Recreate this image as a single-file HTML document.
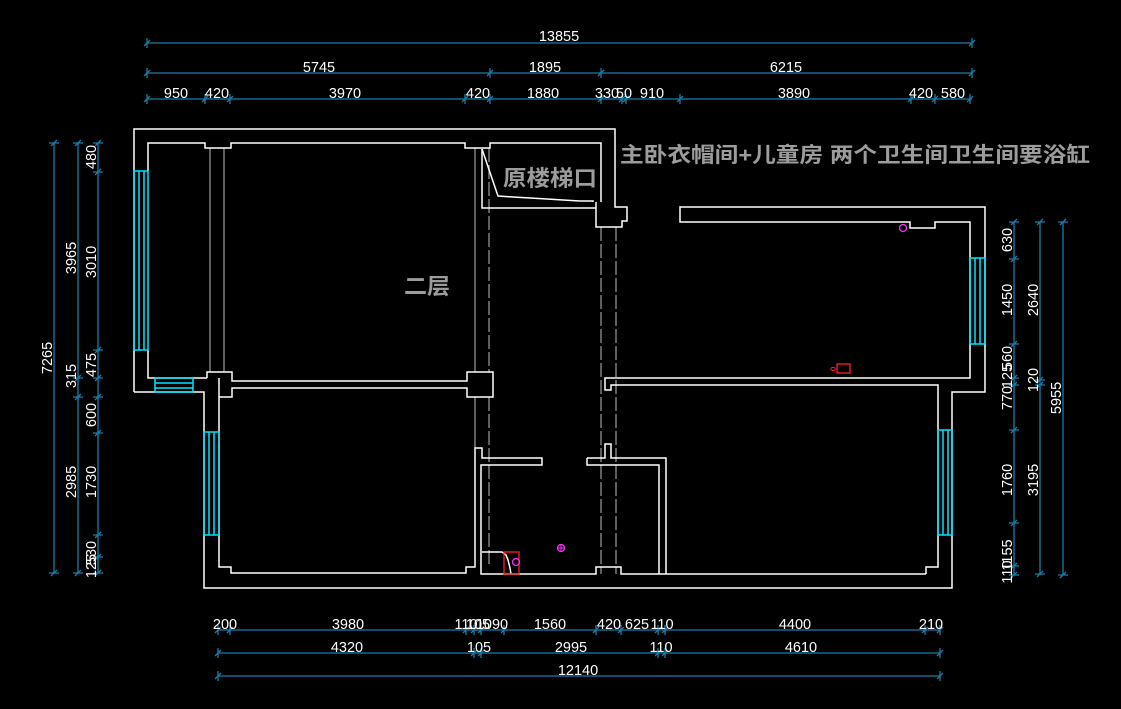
<!DOCTYPE html>
<html><head><meta charset="utf-8"><style>
html,body{margin:0;padding:0;background:#000;}
svg{display:block}
.w{stroke:#fff;stroke-width:1.5;fill:none}
.g{stroke:#909090;stroke-width:1.3;fill:none}
.gd{stroke:#909090;stroke-width:1.3;fill:none;stroke-dasharray:14 3}
.c{stroke:#00e5ff;stroke-width:1.5;fill:none}
.d{stroke:#1a7da8;stroke-width:1.3;fill:none}
.t{fill:#fff;font-family:"Liberation Sans",sans-serif;font-size:14.5px;text-anchor:middle}
.lb{fill:#9c9c9c;font-family:"Liberation Sans","Noto Sans CJK SC",sans-serif;font-weight:bold}
</style></head><body>
<svg width="1121" height="709" viewBox="0 0 1121 709" xmlns="http://www.w3.org/2000/svg">
<rect width="1121" height="709" fill="#000"/>

<!-- ===== Dimensions top ===== -->
<g class="d">
<path d="M147,43H972 M147,73H972 M147,99H972"/>
<path d="M147,38V48M144,46L150,40 M972,38V48M969,46L975,40"/>
<path d="M147,68V78M144,76L150,70 M490,68V78M487,76L493,70 M601,68V78M598,76L604,70 M972,68V78M969,76L975,70"/>
<path d="M147,94V104M144,102L150,96 M205,94V104M202,102L208,96 M230,94V104M227,102L233,96 M465,94V104M462,102L468,96 M490,94V104M487,102L493,96 M601,94V104M598,102L604,96 M622,94V104M619,102L625,96 M626,94V104M623,102L629,96 M680,94V104M677,102L683,96 M911,94V104M908,102L914,96 M935,94V104M932,102L938,96 M970,94V104M967,102L973,96"/>
</g>
<g class="t">
<text x="559" y="41">13855</text>
<text x="319" y="72">5745</text><text x="545" y="72">1895</text><text x="786" y="72">6215</text>
<text x="176" y="98">950</text><text x="217" y="98">420</text><text x="345" y="98">3970</text><text x="478" y="98">420</text><text x="543" y="98">1880</text><text x="607" y="98">330</text><text x="624" y="98">50</text><text x="652" y="98">910</text><text x="794" y="98">3890</text><text x="921" y="98">420</text><text x="953" y="98">580</text>
</g>

<!-- ===== Dimensions left ===== -->
<g class="d">
<path d="M54,143V573 M78,143V573 M98,143V573"/>
<path d="M49,143H59M51,146L57,140 M49,573H59M51,576L57,570"/>
<path d="M73,143H83M75,146L81,140 M73,378H83M75,381L81,375 M73,397H83M75,400L81,394 M73,573H83M75,576L81,570"/>
<path d="M93,143H103M95,146L101,140 M93,172H103M95,175L101,169 M93,350H103M95,353L101,347 M93,378H103M95,381L101,375 M93,397H103M95,400L101,394 M93,433H103M95,436L101,430 M93,535H103M95,538L101,532 M93,557H103M95,560L101,554 M93,573H103M95,576L101,570"/>
</g>
<g class="t">
<text transform="translate(52,358) rotate(-90)">7265</text>
<text transform="translate(76,258) rotate(-90)">3965</text>
<text transform="translate(76,376) rotate(-90)">315</text>
<text transform="translate(76,482) rotate(-90)">2985</text>
<text transform="translate(96,157) rotate(-90)">480</text>
<text transform="translate(96,262) rotate(-90)">3010</text>
<text transform="translate(96,365) rotate(-90)">475</text>
<text transform="translate(96,415) rotate(-90)">600</text>
<text transform="translate(96,482) rotate(-90)">1730</text>
<text transform="translate(96,553) rotate(-90)">530</text>
<text transform="translate(96,566) rotate(-90)">125</text>
</g>

<!-- ===== Dimensions right ===== -->
<g class="d">
<path d="M1014,222V575 M1040,222V575 M1063,222V575"/>
<path d="M1009,222H1019M1011,225L1017,219 M1009,259H1019M1011,262L1017,256 M1009,344H1019M1011,347L1017,341 M1009,378H1019M1011,381L1017,375 M1009,385H1019M1011,388L1017,382 M1009,430H1019M1011,433L1017,427 M1009,523H1019M1011,526L1017,520 M1009,566H1019M1011,569L1017,563 M1009,575H1019M1011,578L1017,572"/>
<path d="M1035,222H1045M1037,225L1043,219 M1035,380H1045M1037,383L1043,377 M1035,385H1045M1037,388L1043,382 M1035,574H1045M1037,577L1043,571"/>
<path d="M1058,222H1068M1060,225L1066,219 M1058,575H1068M1060,578L1066,572"/>
</g>
<g class="t">
<text transform="translate(1012,240) rotate(-90)">630</text>
<text transform="translate(1012,300) rotate(-90)">1450</text>
<text transform="translate(1012,358) rotate(-90)">560</text>
<text transform="translate(1012,376) rotate(-90)">125</text>
<text transform="translate(1012,398) rotate(-90)">770</text>
<text transform="translate(1012,480) rotate(-90)">1760</text>
<text transform="translate(1012,555) rotate(-90)">1155</text>
<text transform="translate(1012,572) rotate(-90)">110</text>
<text transform="translate(1038,300) rotate(-90)">2640</text>
<text transform="translate(1038,380) rotate(-90)">120</text>
<text transform="translate(1038,480) rotate(-90)">3195</text>
<text transform="translate(1061,398) rotate(-90)">5955</text>
</g>

<!-- ===== Dimensions bottom ===== -->
<g class="d">
<path d="M218,630H940 M218,653H940 M218,676H940"/>
<path d="M218,625V635M215,633L221,627 M230,625V635M227,633L233,627 M466,625V635M463,633L469,627 M474,625V635M471,633L477,627 M481,625V635M478,633L484,627 M504,625V635M501,633L507,627 M596,625V635M593,633L599,627 M621,625V635M618,633L624,627 M658,625V635M655,633L661,627 M665,625V635M662,633L668,627 M925,625V635M922,633L928,627 M940,625V635M937,633L943,627"/>
<path d="M218,648V658M215,656L221,650 M474,648V658M471,656L477,650 M481,648V658M478,656L484,650 M658,648V658M655,656L661,650 M665,648V658M662,656L668,650 M940,648V658M937,656L943,650"/>
<path d="M218,671V681M215,679L221,673 M940,671V681M937,679L943,673"/>
</g>
<g class="t">
<text x="225" y="629">200</text><text x="348" y="629">3980</text><text x="466" y="629">110</text><text x="478" y="629">105</text><text x="492" y="629">1090</text><text x="550" y="629">1560</text><text x="609" y="629">420</text><text x="637" y="629">625</text><text x="662" y="629">110</text><text x="795" y="629">4400</text><text x="931" y="629">210</text>
<text x="347" y="652">4320</text><text x="479" y="652">105</text><text x="571" y="652">2995</text><text x="661" y="652">110</text><text x="801" y="652">4610</text>
<text x="578" y="675">12140</text>
</g>

<!-- ===== Gray structural lines ===== -->
<path class="g" d="M210,148V372 M224,148V372 M475,148V372 M475,397V448"/>
<path class="gd" d="M489,148V372 M489,397V567 M601,227V574 M616,227V574"/>

<!-- ===== Walls ===== -->
<g class="w">
<!-- outer top-left -->
<path d="M134,392V129H615V207H627V221H622V227H596V202"/>
<path d="M148,171V143H205V148H231V143H465V148H490V143H601V202"/>
<path d="M148,350V378H207"/>
<path d="M134,392H204V588H952V392H985V207H680V222H910V228H935V222H970V378H605V390H611V385H938V567H926V574"/>
<!-- stair hole -->
<path d="M482,149V208H596"/>
<path d="M482,149L498,196L513,197L530,198L547,199L563,200L580,201L593,201V202"/>
<!-- columns -->
<path d="M207,378V372H232V381H467V372H493V397H467V388H232V397H219V567H231V573H466V567H475V448H482V458H542V465H481V574H596V567H621V574H926"/>
<path d="M219,397V378"/>
<!-- middle partition -->
<path d="M587,458H605V444H611V458H666V574 M587,458V465H659V574"/>
<!-- toilet corner -->
<path d="M482,552H502L506,555L508,560L510,568L511,574"/>
</g>

<!-- ===== Windows (cyan) ===== -->
<g class="c">
<rect x="134" y="171" width="14" height="179"/><path d="M139,171V350M144,171V350"/>
<rect x="155" y="378" width="38" height="14"/><path d="M155,383H193M155,388H193"/>
<rect x="204" y="432" width="15" height="103"/><path d="M209,432V535M214,432V535"/>
<rect x="938" y="430" width="14" height="105"/><path d="M943,430V535M948,430V535"/>
<rect x="970" y="258" width="15" height="86"/><path d="M975,258V344M980,258V344"/>
</g>

<!-- ===== Fixtures ===== -->
<rect x="504" y="552" width="15" height="22" fill="none" stroke="#ff2020" stroke-width="1.3"/>
<circle cx="516" cy="562" r="3.5" fill="none" stroke="#ff30ff" stroke-width="1.3"/>
<circle cx="561" cy="548" r="3.5" fill="none" stroke="#ff30ff" stroke-width="1.3"/>
<path d="M557,548H565M561,544V552" stroke="#ff30ff" stroke-width="1"/>
<circle cx="903" cy="228" r="3.5" fill="none" stroke="#ff30ff" stroke-width="1.3"/>
<rect x="837" y="364" width="13" height="9" fill="none" stroke="#ff2020" stroke-width="1.3"/>
<ellipse cx="833" cy="369" rx="2.2" ry="1.6" fill="none" stroke="#ff2020" stroke-width="1"/>

<!-- ===== Labels ===== -->
<text class="lb" x="620" y="162" font-size="21" textLength="470" lengthAdjust="spacingAndGlyphs">主卧衣帽间+儿童房 两个卫生间卫生间要浴缸</text>
<text class="lb" x="503" y="186" font-size="22" textLength="94" lengthAdjust="spacingAndGlyphs">原楼梯口</text>
<text class="lb" x="404" y="294" font-size="22" textLength="46" lengthAdjust="spacingAndGlyphs">二层</text>
</svg>
</body></html>
